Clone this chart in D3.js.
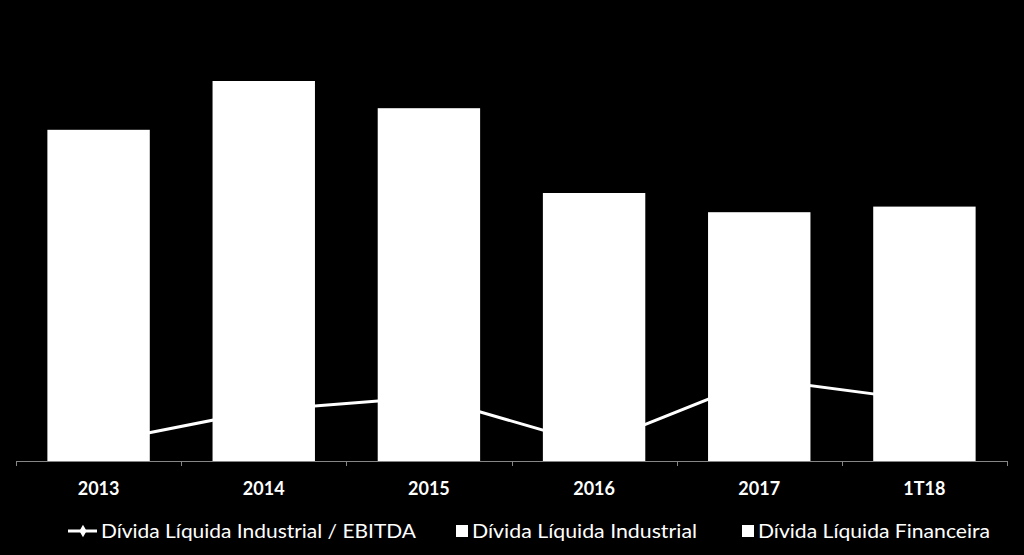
<!DOCTYPE html>
<html>
<head>
<meta charset="utf-8">
<script src="https://cdn.jsdelivr.net/npm/d3@7/dist/d3.min.js"></script>
<style>
  html, body { margin: 0; padding: 0; background: #000; }
  svg { display: block; }
</style>
</head>
<body>
<svg id="chart" width="1024" height="555"></svg>
<script>
// ---- data ----
const categories = ["2013", "2014", "2015", "2016", "2017", "1T18"];
const dividaIndustrial = [3.60, 4.20, 3.90, 2.90, 2.70, 2.75];
const dividaFinanceira = [0.54, 0.55, 0.51, 0.45, 0.41, 0.43];
const dividaEbitda = [0.50, 1.40, 1.76, 0.44, 2.26, 1.66];
const legendLabels = ["Dívida Líquida Industrial / EBITDA", "Dívida Líquida Industrial", "Dívida Líquida Financeira"];

// ---- layout ----
const svg = d3.select("#chart");
const W = 1024, H = 555;
svg.append("rect").attr("width", W).attr("height", H).attr("fill", "#000");

const x0 = 16, x1 = 1007, yBase = 461, yTop = 61;
const x = d3.scaleBand().domain(categories).range([x0, x1]).paddingInner(0.38).paddingOuter(0.19);
const y = d3.scaleLinear().domain([0, 5]).range([yBase, yTop]);
const y2 = d3.scaleLinear().domain([0, 11]).range([yBase, yTop]);

const font = "Lato, 'Open Sans', sans-serif";

// stacked bars
const rows = categories.map((c, i) => ({ cat: c, ind: dividaIndustrial[i], fin: dividaFinanceira[i] }));
const stack = d3.stack().keys(["ind", "fin"])(rows);
const colors = { ind: "#ffffff", fin: "#ffffff" };
svg.append("g").selectAll("g").data(stack).join("g")
  .attr("fill", d => colors[d.key])
  .selectAll("rect").data(d => d).join("rect")
  .attr("x", d => x(d.data.cat))
  .attr("width", x.bandwidth())
  .attr("y", d => y(d[1]))
  .attr("height", d => y(d[0]) - y(d[1]));

// line (white)
const line = d3.line().x((d, i) => x(categories[i]) + x.bandwidth() / 2).y(d => y2(d));
svg.append("path").datum(dividaEbitda)
  .attr("d", line).attr("fill", "none").attr("stroke", "#fff").attr("stroke-width", 3);
svg.append("g").selectAll("path").data(dividaEbitda).join("path")
  .attr("d", d3.symbol().type(d3.symbolDiamond).size(40))
  .attr("transform", (d, i) => `translate(${x(categories[i]) + x.bandwidth() / 2},${y2(d)})`)
  .attr("fill", "#fff");

// x axis
const step = (x1 - x0) / categories.length;
const axis = svg.append("g");
axis.append("line").attr("x1", x0).attr("x2", x1).attr("y1", yBase + 0.5).attr("y2", yBase + 0.5)
  .attr("stroke", "#868686").attr("stroke-width", 1);
d3.range(categories.length + 1).forEach(i => {
  const xx = Math.round(x0 + i * step) + 0.5;
  axis.append("line").attr("x1", xx).attr("x2", xx).attr("y1", yBase).attr("y2", yBase + 5)
    .attr("stroke", "#868686");
});
axis.selectAll("text").data(categories).join("text")
  .attr("x", d => x(d) + x.bandwidth() / 2)
  .attr("y", 495)
  .attr("text-anchor", "middle")
  .attr("fill", "#fff")
  .attr("font-family", font).attr("font-weight", "bold").attr("font-size", 18)
  .text(d => d);

// legend
const lg = svg.append("g").attr("font-family", font).attr("font-size", 19.5).attr("fill", "#fff");
lg.append("line").attr("x1", 68).attr("x2", 97).attr("y1", 531).attr("y2", 531).attr("stroke", "#fff").attr("stroke-width", 3);
lg.append("path").attr("d", d3.symbol().type(d3.symbolDiamond).size(45)).attr("transform", "translate(83,531)").attr("fill", "#fff");
lg.append("text").attr("x", 101).attr("y", 538).attr("textLength", 315).attr("lengthAdjust", "spacingAndGlyphs").text(legendLabels[0]);
lg.append("rect").attr("x", 456).attr("y", 525).attr("width", 12).attr("height", 12).attr("fill", "#fff");
lg.append("text").attr("x", 472).attr("y", 538).attr("textLength", 225).attr("lengthAdjust", "spacingAndGlyphs").text(legendLabels[1]);
lg.append("rect").attr("x", 742).attr("y", 525).attr("width", 12).attr("height", 12).attr("fill", "#fff");
lg.append("text").attr("x", 758).attr("y", 538).attr("textLength", 232).attr("lengthAdjust", "spacingAndGlyphs").text(legendLabels[2]);
</script>
</body>
</html>
